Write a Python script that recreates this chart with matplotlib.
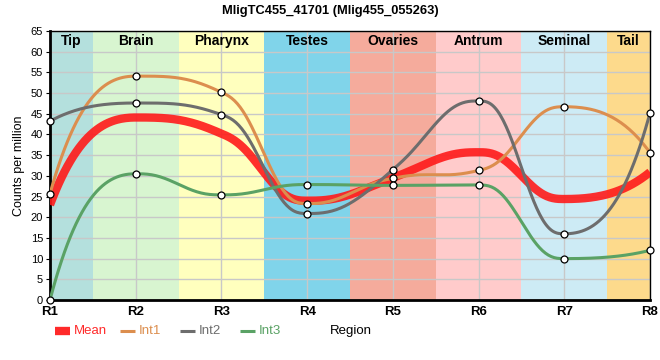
import numpy as np
import matplotlib.pyplot as plt
from matplotlib.lines import Line2D

plt.rcParams['font.family'] = ['Liberation Sans', 'DejaVu Sans']

regions = ['R1', 'R2', 'R3', 'R4', 'R5', 'R6', 'R7', 'R8']
mean = [23.0, 44.1, 40.2, 24.0, 29.5, 35.7, 24.4, 30.9]
int1 = [25.7, 54.1, 50.2, 23.3, 29.4, 31.3, 46.7, 35.6]
int2 = [43.2, 47.6, 44.8, 20.9, 31.5, 48.1, 16.0, 45.2]
int3 = [0.0, 30.5, 25.4, 27.9, 27.7, 27.8, 10.0, 12.0]

tissues = ['Tip', 'Brain', 'Pharynx', 'Testes', 'Ovaries', 'Antrum', 'Seminal', 'Tail']
tissue_colors = ['#b4e0dd', '#d8f5d0', '#ffffbe', '#80d4ea', '#f5ab9c',
                 '#ffcbcb', '#cdebf5', '#fdda8c']


def smooth(y, n=60):
    # monotone-ish hermite curve through the points (drawing only)
    y = np.asarray(y, float)
    x = np.arange(1, len(y) + 1)
    d = np.diff(y)
    m = np.zeros(len(y))
    for i in range(1, len(y) - 1):
        if d[i - 1] * d[i] > 0:
            hm = 2.0 / (1.0 / d[i - 1] + 1.0 / d[i])
            lim = 2.5 * min(abs(d[i - 1]), abs(d[i]))
            m[i] = np.sign(hm) * min(abs(1.4 * hm), lim)
    m[0] = 2.6 * d[0]
    m[-1] = 2.6 * d[-1]
    xs, ys = [], []
    last = len(y) - 2
    for i in range(len(y) - 1):
        t = np.linspace(0, 1, n)
        if i == 0 or i == last:
            a0 = 2 * t**3 - 3 * t**2 + 1
            b0 = t**3 - 2 * t**2 + t
            a1 = -2 * t**3 + 3 * t**2
            b1 = t**3 - t**2
        else:
            a0 = 1 - 10 * t**3 + 15 * t**4 - 6 * t**5
            b0 = t - 6 * t**3 + 8 * t**4 - 3 * t**5
            a1 = 10 * t**3 - 15 * t**4 + 6 * t**5
            b1 = -4 * t**3 + 7 * t**4 - 3 * t**5
        xs.append(x[i] + t)
        ys.append(a0 * y[i] + b0 * m[i] + a1 * y[i + 1] + b1 * m[i + 1])
    return np.concatenate(xs), np.concatenate(ys)


fig = plt.figure(figsize=(6.6, 3.6), dpi=100)
ax = fig.add_axes([50 / 660, 60 / 360, 600 / 660, 269 / 360])

edges = [1, 1.5, 2.5, 3.5, 4.5, 5.5, 6.5, 7.5, 8]
for i in range(len(tissues)):
    ax.axvspan(edges[i], edges[i + 1], color=tissue_colors[i], lw=0, zorder=0)
    ax.text((edges[i] + edges[i + 1]) / 2, 62.6, tissues[i], ha='center', va='center',
            fontsize=10, fontweight='bold', zorder=5)

ax.set_xlim(1, 8)
ax.set_ylim(0, 65)
ax.set_yticks(np.arange(0, 66, 5))
ax.set_xticks(range(1, 9))
ax.set_xticklabels(regions, fontsize=9.5, fontweight='bold')
ax.tick_params(axis='y', labelsize=8, length=3, pad=2)
ax.tick_params(axis='x', length=0, pad=4)
ax.grid(True, color='#c8c8c8', lw=1, zorder=1)
ax.set_axisbelow(True)
for s in ['top', 'right']:
    ax.spines[s].set_linewidth(1)
for s in ['left', 'bottom']:
    ax.spines[s].set_linewidth(2)

ax.set_ylabel('Counts per million', fontsize=9, labelpad=4)

xm, ym = smooth(mean)
ax.plot(xm, ym, color='#ff1a1a', lw=6, alpha=0.9, solid_capstyle='butt', zorder=3)

series = [(int1, '#dc8e4e'), (int2, '#6d6d6d'), (int3, '#5aa265')]
for vals, c in series:
    xs, ys = smooth(vals)
    ax.plot(xs, ys, color=c, lw=2.2, zorder=4)
    ax.plot(range(1, 9), vals, 'o', ms=5, mfc='white', mec='black', mew=0.9,
            zorder=6, clip_on=False)

fig.suptitle('MligTC455_41701 (Mlig455_055263)', fontsize=9.3, fontweight='bold',
             y=0.985)

# legend row under the axis
leg_items = [('Mean', '#ff2a2a', 6, 55), ('Int1', '#dc8e4e', 2.2, 120),
             ('Int2', '#6d6d6d', 2.2, 180), ('Int3', '#5aa265', 2.2, 240)]
ly = 1 - 331 / 360
for name, c, lw, px in leg_items:
    fig.add_artist(Line2D([px / 660, (px + 15) / 660], [ly, ly], color=c, lw=lw,
                          solid_capstyle='butt'))
    fig.text((px + 19) / 660, ly, name, color=c, fontsize=9.5, va='center', ha='left')
fig.text(351 / 660, ly, 'Region', fontsize=9.5, va='center', ha='center')

fig.savefig('out.png', dpi=100)
